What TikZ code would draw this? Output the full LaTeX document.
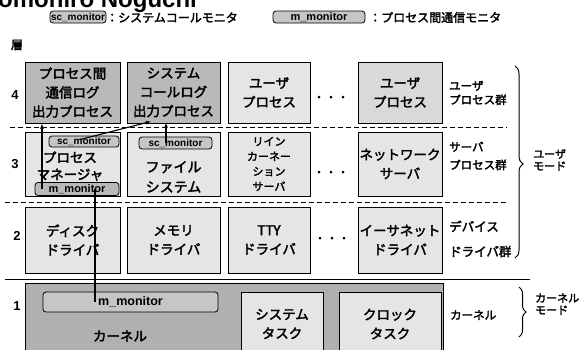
\documentclass[tikz,border=0pt]{standalone}
\usepackage{fontspec}
\setmainfont{Noto Sans CJK JP}[AutoFakeBold=2.5]
\newfontfamily\titlefont{Liberation Sans}
\newfontfamily\monfont{Liberation Sans}
\usetikzlibrary{arrows.meta,decorations.pathreplacing}
\begin{document}
\begin{tikzpicture}[x=1pt,y=-1pt,
  blk/.style={draw,line width=1pt,inner sep=0pt,align=center,font=\bfseries\fontsize{13.5}{19}\selectfont},
  dark/.style={blk,fill=gray!55},
  light/.style={blk,fill=gray!20},
  mid/.style={blk,fill=gray!30},
  mon/.style={draw,line width=0.8pt,rounded corners=3pt,inner sep=0pt,fill=gray!45,font=\monfont\bfseries\fontsize{10}{10}\selectfont},
  txt/.style={inner sep=0pt,align=center,font=\bfseries\fontsize{13.5}{19}\selectfont},
  lbl/.style={inner sep=0pt,align=left,anchor=west,font=\bfseries\fontsize{11.5}{14}\selectfont},
  arr/.style={line width=1.1pt,-{Latex[length=5pt,width=4pt]}},
  ln/.style={line width=1.1pt},
  dotc/.style={fill=black,circle,inner sep=0pt,minimum size=3pt}
]
\path[use as bounding box] (0,0) rectangle (587,349);
\clip (0,0) rectangle (587,349);

% title (cut off)
\node[inner sep=0pt,anchor=base west,font=\titlefont\bfseries\fontsize{24}{24}\selectfont] (title) at (-2,7) {omohiro Noguchi};

% legend
\node[mon,minimum width=56,minimum height=12] (lsc) at (78,17) {sc\_monitor};
\node[inner sep=0pt,anchor=west,font=\bfseries\fontsize{12}{12}\selectfont] (lsct) at (106,17.5) {：システムコールモニタ};
\node[mon,minimum width=92,minimum height=12,font=\monfont\bfseries\fontsize{11}{11}\selectfont] (lm) at (319,17) {m\_monitor};
\node[inner sep=0pt,anchor=west,font=\bfseries\fontsize{12}{12}\selectfont] (lmt) at (369,17.5) {：プロセス間通信モニタ};

\node[inner sep=0pt,font=\bfseries\fontsize{12}{12}\selectfont] (so) at (17,45) {層};

% layer numbers
\node[inner sep=0pt,font=\monfont\bfseries\fontsize{13}{13}\selectfont] (n4) at (15,95) {4};
\node[inner sep=0pt,font=\monfont\bfseries\fontsize{13}{13}\selectfont] (n3) at (15,164) {3};
\node[inner sep=0pt,font=\monfont\bfseries\fontsize{13}{13}\selectfont] (n2) at (17,236) {2};
\node[inner sep=0pt,font=\monfont\bfseries\fontsize{13}{13}\selectfont] (n1) at (17,306) {1};

% separators
\draw[dashed,line width=0.9pt,dash pattern=on 5pt off 3pt] (10,127) -- (507,127);
\draw[dashed,line width=0.9pt,dash pattern=on 5pt off 3pt] (5,202) -- (507,202);
\draw[line width=1pt] (5,279) -- (530,279);

% row 4
\node[dark,minimum width=95,minimum height=61] (p4a) at (72.5,92.5) {プロセス間\\通信ログ\\出力プロセス};
\node[dark,minimum width=93,minimum height=61] (p4b) at (173.5,92.5) {システム\\コールログ\\出力プロセス};
\node[light,minimum width=82,minimum height=61] (p4c) at (269,92.5) {ユーザ\\プロセス};
\node[mid,minimum width=84,minimum height=61] (p4e) at (400,92.5) {ユーザ\\プロセス};
\node[dotc] (d4a) at (319,97) {};
\node[dotc] (d4b) at (331,97) {};
\node[dotc] (d4c) at (343,97) {};
\node[lbl] (l4) at (449,93) {ユーザ\\プロセス群};

% row 3
\node[light,minimum width=95,minimum height=64] (p3a) at (72.5,164) {};
\node[mon,minimum width=70,minimum height=11] (sc3a) at (84,141.5) {sc\_monitor};
\node[txt,font=\bfseries\fontsize{13.5}{17}\selectfont] (t3a) at (70,166) {プロセス\\マネージャ};
\node[mon,fill=gray!55,minimum width=84,minimum height=13,font=\monfont\bfseries\fontsize{11}{11}\selectfont] (m3a) at (77,189) {m\_monitor};
\node[light,minimum width=93,minimum height=64] (p3b) at (173.5,164) {};
\node[mon,minimum width=73,minimum height=12] (sc3b) at (175.5,143) {sc\_monitor};
\node[txt,font=\bfseries\fontsize{14}{20}\selectfont] (t3b) at (173.5,177) {ファイル\\システム};
\node[light,minimum width=82,minimum height=64,font=\bfseries\fontsize{11}{15}\selectfont] (p3c) at (269,164) {リイン\\カーネー\\ション\\サーバ};
\node[light,minimum width=84,minimum height=64] (p3e) at (400,164) {ネットワーク\\サーバ};
\node[dotc] (d3a) at (319,172) {};
\node[dotc] (d3b) at (331,172) {};
\node[dotc] (d3c) at (343,172) {};
\node[lbl,font=\bfseries\fontsize{11.5}{18}\selectfont] (l3) at (449,156) {サーバ\\プロセス群};

% row 2
\node[light,minimum width=95,minimum height=66] (p2a) at (72.5,240) {ディスク\\ドライバ};
\node[light,minimum width=93,minimum height=66] (p2b) at (173.5,240) {メモリ\\ドライバ};
\node[light,minimum width=82,minimum height=66] (p2c) at (269,240) {TTY\\ドライバ};
\node[light,minimum width=84,minimum height=66] (p2e) at (400,240) {イーサネット\\ドライバ};
\node[dotc] (d2a) at (320,238) {};
\node[dotc] (d2b) at (332,238) {};
\node[dotc] (d2c) at (344,238) {};
\node[lbl,font=\bfseries\fontsize{12.5}{25}\selectfont] (l2) at (449,239) {デバイス\\ドライバ群};

% row 1
\node[dark,fill=gray!62,minimum width=418,minimum height=72] (ker) at (234,319) {};
\node[mon,fill=gray!45,minimum width=175,minimum height=20,font=\monfont\bfseries\fontsize{12.5}{12}\selectfont] (mk) at (130.5,302) {m\_monitor};
\node[txt] (kt) at (120,336) {カーネル};
\node[light,minimum width=82,minimum height=64] (st) at (282,324) {システム\\タスク};
\node[light,minimum width=102,minimum height=64] (ct) at (390,324) {クロック\\タスク};
\node[lbl] (l1) at (450,315) {カーネル};

% braces
\draw[line width=1pt,decorate,decoration={brace,amplitude=8pt,aspect=0.51}] (515,66) -- (515,258);
\node[lbl,font=\bfseries\fontsize{11}{12}\selectfont] (um) at (533,160) {ユーザ\\モード};
\draw[line width=1pt,decorate,decoration={brace,amplitude=7pt}] (519,287) -- (519,337);
\node[lbl,font=\bfseries\fontsize{11}{12}\selectfont] (km) at (535,304) {カーネル\\モード};

% connectors
\draw[arr] (m3a.center -| 42,0) -- (p4a.south -| 42,0);
\draw[arr] ([xshift=-4pt,yshift=2pt]sc3a.center) -- ([yshift=2pt]p4b.south -| 151,0);
\draw[arr] (sc3b.center -| 166,0) -- ([yshift=1pt]p4b.south -| 166,0);
\draw[ln] (mk.center -| 95,0) -- (m3a.center -| 95,0);
\end{tikzpicture}
\end{document}
